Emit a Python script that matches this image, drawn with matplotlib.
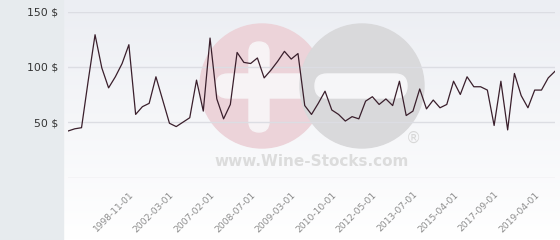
import numpy as np
import matplotlib
matplotlib.use("Agg")
import matplotlib.pyplot as plt
from matplotlib.patches import Rectangle, Ellipse, FancyBboxPatch

# prix (73 cotations)
prices = [42, 44, 45, 88, 129, 99, 81, 91, 103, 120,
          57, 64, 67, 91, 70, 49, 46, 50, 54, 88,
          60, 126, 71, 53, 66, 113, 104, 103, 108, 90,
          97, 105, 114, 107, 112, 65, 57, 67, 78, 61,
          57, 51, 55, 53, 69, 73, 66, 71, 65, 87,
          56, 60, 80, 62, 70, 63, 66, 87, 75, 91,
          82, 82, 79, 47, 87, 43, 94, 74, 63, 79,
          79, 90, 96]
tick_idx = [9, 15, 21, 27, 33, 39, 45, 51, 57, 63, 69]
tick_labels = ["1998-11-01", "2002-03-01", "2007-02-01", "2008-07-01",
               "2009-03-01", "2010-10-01", "2012-05-01", "2013-07-01",
               "2015-04-01", "2017-09-01", "2019-04-01"]
y_ticks = [0, 50, 100, 150]
y_labels = ["", "50 $", "100 $", "150 $"]

W, H = 560, 240
fig = plt.figure(figsize=(W / 100, H / 100), dpi=100)

# panneau gauche gris
fig.patches.append(Rectangle((0, 0), 63 / W, 1, transform=fig.transFigure,
                             color="#e7ebee", zorder=0))

# fond dégradé + filigrane, en coordonnées pixels
bg = fig.add_axes([63 / W, 0, 1 - 63 / W, 1], zorder=0)
bg.set_xlim(63, W)
bg.set_ylim(H, 0)
bg.axis("off")
grad = np.linspace(0, 1, 100)[:, None]
bg.imshow(grad, cmap=matplotlib.colors.LinearSegmentedColormap.from_list(
    "g", ["#eceef3", "#ffffff"]), extent=(63, W, H, 0), aspect="auto", zorder=0)

bg.add_patch(Ellipse((262, 86), 124, 124, color="#ecd3d9", zorder=1))
bg.add_patch(FancyBboxPatch((249, 42), 20, 90, boxstyle="round,pad=0,rounding_size=10",
                            color="#f7f3f5", zorder=2))
bg.add_patch(FancyBboxPatch((216, 74), 100, 24, boxstyle="round,pad=0,rounding_size=12",
                            color="#f7f3f5", zorder=2))
bg.add_patch(Ellipse((362, 86), 124, 124, color="#d9d9db", zorder=3))
bg.add_patch(FancyBboxPatch((315, 74), 92, 24, boxstyle="round,pad=0,rounding_size=12",
                            color="#f6f6f8", zorder=4))
bg.text(312, 161, "www.Wine-Stocks.com", ha="center", va="center", fontsize=11,
        fontweight="bold", color="#dcdcdc", zorder=4)
bg.text(413, 138, "®", ha="center", va="center", fontsize=11,
        color="#d8d8d8", zorder=4)

# graphique principal
ax = fig.add_axes([68 / W, (H - 177.5) / H, (555 - 68) / W, 166 / H], zorder=2)
ax.patch.set_visible(False)
x = np.arange(len(prices))
ax.plot(x, prices, color="#3a1f2c", lw=0.9, zorder=3)
ax.set_xlim(0, len(prices) - 1)
ax.set_ylim(0, 150)
for v in y_ticks:
    ax.axhline(v, color="#dcdde3", lw=1, zorder=1)
ax.set_yticks(y_ticks)
ax.set_yticklabels(y_labels, fontsize=7.8, color="#333333")
ax.set_xticks(tick_idx)
ax.set_xticklabels(tick_labels, rotation=45, ha="right", va="top",
                   rotation_mode="anchor", fontsize=6.6, color="#8c8c8c")
ax.tick_params(axis="both", length=0)
ax.tick_params(axis="y", pad=7)
ax.tick_params(axis="x", pad=9)
for s in ax.spines.values():
    s.set_visible(False)

fig.savefig("out.png", dpi=100)
